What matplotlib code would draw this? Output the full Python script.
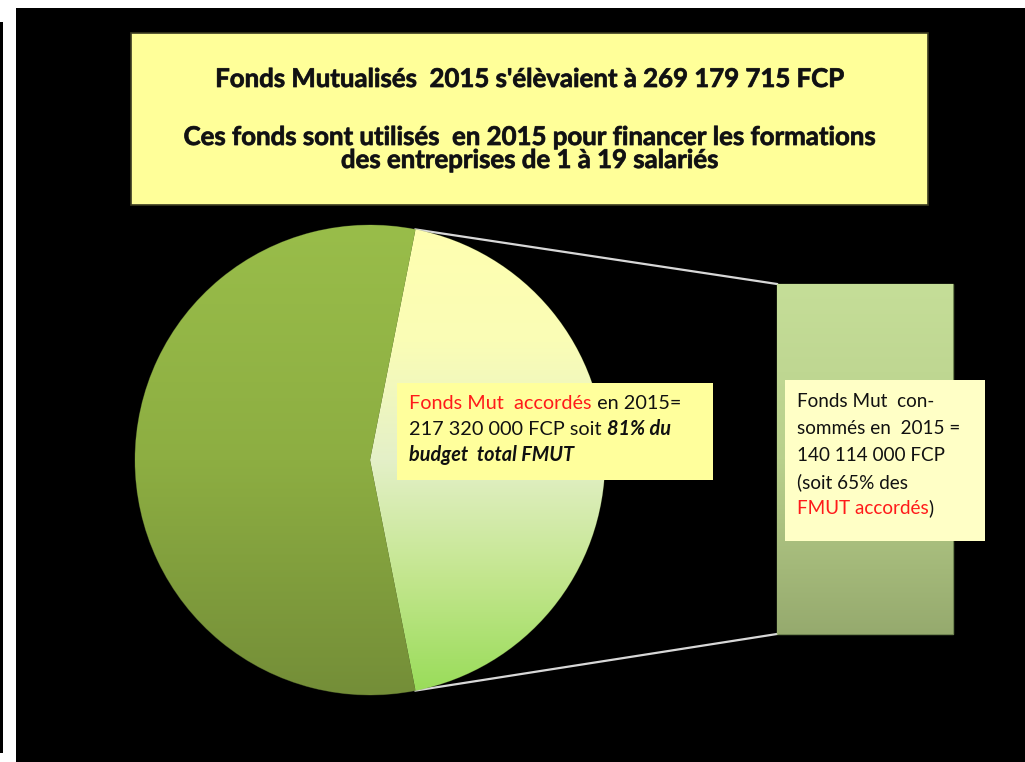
import matplotlib
matplotlib.use("Agg")
import matplotlib.pyplot as plt
import numpy as np
from matplotlib.patches import Rectangle
from matplotlib.font_manager import FontProperties
import matplotlib.patheffects as pe

# ---------------- data ----------------
title_lines = [
    "Fonds Mutualisés  2015 s'élèvaient à 269 179 715 FCP",
    "Ces fonds sont utilisés  en 2015 pour financer les formations",
    "des entreprises de 1 à 19 salariés",
]
pie_categories = ["Part détaillée (barre)", "Autres"]
pie_shares = [43.8, 56.2]          # % of the pie
bar_categories = ["Fonds Mut consommés"]
bar_values = [100.0]               # single segment filling the bar

label1 = [  # (text, color, weight, style) per line
    [("Fonds Mut  accordés", "#ff1a1a", "normal", "normal"), (" en 2015=", "#111111", "normal", "normal")],
    [("217 320 000 FCP soit ", "#111111", "normal", "normal"), ("81% du", "#111111", "bold", "italic")],
    [("budget  total FMUT", "#111111", "bold", "italic")],
]
label2 = [
    [("Fonds Mut  con-", "#111111", "normal", "normal")],
    [("sommés en  2015 =", "#111111", "normal", "normal")],
    [("140 114 000 FCP", "#111111", "normal", "normal")],
    [("(soit 65% des", "#111111", "normal", "normal")],
    [("FMUT accordés", "#ff1a1a", "normal", "normal"), (")", "#111111", "normal", "normal")],
]

# ---------------- figure ----------------
W, H = 1025, 762
FONT = "Lato"
fig = plt.figure(figsize=(W / 100, H / 100), dpi=100, facecolor="white")
ax = fig.add_axes([0, 0, 1, 1])
ax.set_facecolor("white")

ax.add_patch(Rectangle((16, 8), W - 16, H - 8, fc="black", ec="none", zorder=0))
ax.add_patch(Rectangle((0, 22), 2.5, 731, fc="black", ec="none", zorder=0))

# title box
ax.add_patch(Rectangle((131, 33), 797, 172, fc="#ffff99", ec="#3a3a20", lw=1.2, zorder=2))


def grad_img(stops, n=256, width=2):
    pos = np.array([s[0] for s in stops])
    cols = np.array([s[1] for s in stops], dtype=float) / 255.0
    t = np.linspace(0, 1, n)
    arr = np.stack([np.interp(t, pos, cols[:, k]) for k in range(3)], axis=-1)
    return np.repeat(arr[:, None, :], width, axis=1)


# pie
cx, cy, R = 370, 460, 235
startangle = -pie_shares[0] / 100 * 360 / 2
wedges, _ = ax.pie(pie_shares, center=(cx, cy), radius=R, startangle=startangle,
                   counterclock=True, frame=True,
                   wedgeprops=dict(linewidth=0, edgecolor="none"))
light, green = wedges
grads = [
    grad_img([(0, (255, 255, 176)), (0.25, (250, 253, 182)), (0.5, (228, 240, 200)),
              (0.75, (195, 230, 142)), (1, (152, 220, 88))]),
    grad_img([(0, (153, 189, 74)), (0.5, (141, 174, 66)), (1, (116, 142, 56))]),
]
for w, g in zip(wedges, grads):
    w.set_facecolor("none")
    w.set_zorder(3)
    im = ax.imshow(g, extent=(cx - R, cx + R, cy + R, cy - R), aspect="auto",
                   interpolation="bilinear", zorder=3)
    im.set_clip_path(w)
for w in wedges:
    w.set_edgecolor((0.45, 0.55, 0.25, 0.4))
    w.set_linewidth(0.6)

# bar (bar of pie)
bx, btop, bw, bh = 777, 284, 176, 350
scale = bh / sum(bar_values)
bars = ax.bar([bx + bw / 2] * len(bar_values), [v * scale for v in bar_values], width=bw,
              bottom=btop, color="none", edgecolor="none", zorder=3)
for b in bars:
    im = ax.imshow(grad_img([(0, (197, 222, 152)), (0.5, (185, 208, 140)), (1, (150, 170, 110))]),
                   extent=(bx, bx + bw, btop + bh, btop), aspect="auto",
                   interpolation="bilinear", zorder=3)
    im.set_clip_path(b)
    b.set_edgecolor((0.55, 0.65, 0.4, 0.8))
    b.set_linewidth(1.0)

# connector lines from the light slice edges to the bar corners
th1, th2 = np.deg2rad(light.theta1), np.deg2rad(light.theta2)
p_a = (cx + R * np.cos(th1), cy + R * np.sin(th1))
p_b = (cx + R * np.cos(th2), cy + R * np.sin(th2))
pts = sorted([p_a, p_b], key=lambda p: p[1])
ax.plot([pts[0][0], bx], [pts[0][1], btop], color="#d8d8d8", lw=1.6, zorder=2.5)
ax.plot([pts[1][0], bx], [pts[1][1], btop + bh], color="#d8d8d8", lw=1.6, zorder=2.5)

# label boxes
ax.add_patch(Rectangle((397, 383), 316, 97, fc="#ffff9c", ec="none", zorder=4))
ax.add_patch(Rectangle((785, 380), 200, 161, fc="#ffffc6", ec="none", zorder=4))

ax.set_xlim(0, W)
ax.set_ylim(H, 0)
ax.set_aspect("auto")
ax.axis("off")

fig.canvas.draw()
rend = fig.canvas.get_renderer()


def tw(s, size, weight="normal", style="normal"):
    fp = FontProperties(family=FONT, size=size, weight=weight, style=style)
    w1, _, _ = rend.get_text_width_height_descent("|" + s + "|", fp, ismath=False)
    w2, _, _ = rend.get_text_width_height_descent("||", fp, ismath=False)
    return (w1 - w2)


def fit(s, target, weight="normal", style="normal"):
    return 10 * target / tw(s, 10, weight, style)


# title
tsize = fit(title_lines[0], 630, "bold")
for s, yb in zip(title_lines, [87, 145, 168]):
    ax.text((131 + 928) / 2, yb, s, ha="center", va="baseline", fontsize=tsize,
            fontweight="bold", family=FONT, color="#111111", zorder=5,
            path_effects=[pe.withStroke(linewidth=0.6, foreground="#333333")])


def draw_lines(lines, x0, baselines, size):
    for segs, yb in zip(lines, baselines):
        x = x0
        for s, col, wt, st in segs:
            ax.text(x, yb, s, ha="left", va="baseline", fontsize=size, color=col,
                    fontweight=wt, fontstyle=st, family=FONT, zorder=5)
            x += tw(s, size, wt, st)


s1 = fit("Fonds Mut  accordés en 2015=", 273)
draw_lines(label1, 409, [409, 435, 461], s1)
s2 = fit("140 114 000 FCP", 147)
draw_lines(label2, 797, [407, 434, 461, 488, 514], s2)

fig.savefig("out.png", dpi=100, facecolor="white")
